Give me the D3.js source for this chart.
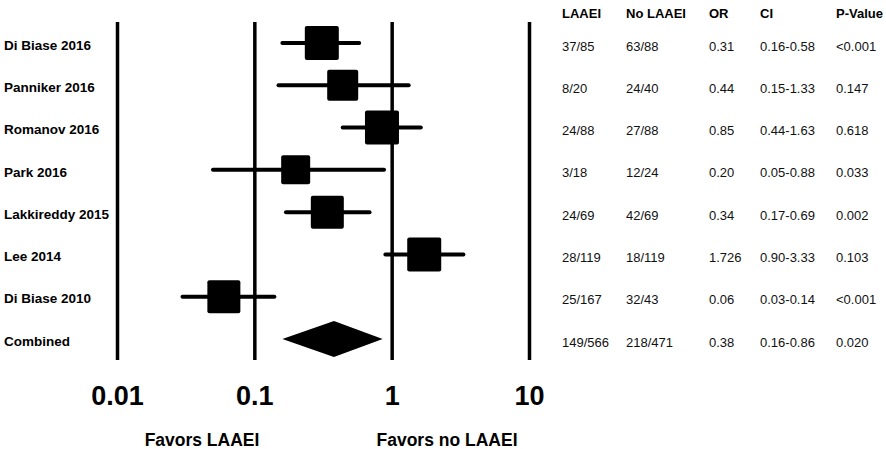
<!DOCTYPE html>
<html><head><meta charset="utf-8">
<script src="https://cdn.jsdelivr.net/npm/d3@7"></script>
<style>
html,body{margin:0;padding:0;background:#fff;}
svg{display:block;font-family:Arial,"Liberation Sans",sans-serif;}
</style></head>
<body>
<script>
const studies = ["Di Biase 2016","Panniker 2016","Romanov 2016","Park 2016","Lakkireddy 2015","Lee 2014","Di Biase 2010"];
const combinedLabel = "Combined";
const oddsRatio = [0.31,0.44,0.85,0.20,0.34,1.726,0.06];
const ciLow = [0.16,0.15,0.44,0.05,0.17,0.90,0.03];
const ciHigh = [0.58,1.33,1.63,0.88,0.69,3.33,0.14];
const weight = [34,31,34,29,33,34,33];
const combinedOR = 0.38, combinedLow = 0.16, combinedHigh = 0.86;
const colHeaders = ["LAAEI","No LAAEI","OR","CI","P-Value"];
const colLAAEI = ["37/85","8/20","24/88","3/18","24/69","28/119","25/167","149/566"];
const colNoLAAEI = ["63/88","24/40","27/88","12/24","42/69","18/119","32/43","218/471"];
const colOR = ["0.31","0.44","0.85","0.20","0.34","1.726","0.06","0.38"];
const colCI = ["0.16-0.58","0.15-1.33","0.44-1.63","0.05-0.88","0.17-0.69","0.90-3.33","0.03-0.14","0.16-0.86"];
const colP = ["<0.001","0.147","0.618","0.033","0.002","0.103","<0.001","0.020"];
const tickValues = [0.01,0.1,1,10];
const tickLabels = ["0.01","0.1","1","10"];
const favorLeft = "Favors LAAEI", favorRight = "Favors no LAAEI";

const W = 886, H = 449;
const svg = d3.select("body").append("svg").attr("width",W).attr("height",H);

const x = d3.scaleLog().domain([0.01,10]).range([117,529]);
const rows = studies.concat([combinedLabel]);
const y = d3.scalePoint().domain(rows).range([43,339]);
const sz = d3.scaleLinear().domain([0,34]).range([0,34]);

// axis with full-height gridlines
const axisY = 360;
const axis = d3.axisBottom(x).tickValues(tickValues)
  .tickFormat((d,i)=>tickLabels[i]).tickSizeInner(-(axisY-22)).tickSizeOuter(0).tickPadding(26);
const ag = svg.append("g").attr("transform",`translate(0,${axisY})`).call(axis);
ag.select(".domain").remove();
ag.selectAll(".tick line").attr("stroke","#000").attr("stroke-width",3.5);
ag.selectAll(".tick text").attr("fill","#000").style("font-size","27px").style("font-weight","bold")
  .style("font-family","Arial,'Liberation Sans',sans-serif");

// study labels
svg.append("g").selectAll("text").data(rows).join("text")
  .attr("x",4).attr("y",d=>y(d)+2).attr("dy","0.35em")
  .style("font-size","13.5px").style("font-weight","bold").attr("fill","#000")
  .text(d=>d);

// CI lines
const data = studies.map((s,i)=>({s,or:oddsRatio[i],lo:ciLow[i],hi:ciHigh[i],w:weight[i]}));
svg.append("g").selectAll("line").data(data).join("line")
  .attr("x1",d=>x(d.lo)).attr("x2",d=>x(d.hi))
  .attr("y1",d=>y(d.s)).attr("y2",d=>y(d.s))
  .attr("stroke","#000").attr("stroke-width",4).attr("stroke-linecap","round");

// squares
svg.append("g").selectAll("rect").data(data).join("rect")
  .attr("x",d=>x(d.or)-sz(d.w)/2).attr("y",d=>y(d.s)-sz(d.w)/2)
  .attr("width",d=>sz(d.w)).attr("height",d=>sz(d.w))
  .attr("rx",2).attr("fill","#000");

// diamond
const cy = y(combinedLabel), dh = 18;
svg.append("polygon")
  .attr("points",[[x(combinedLow),cy],[x(combinedOR),cy-dh],[x(combinedHigh),cy],[x(combinedOR),cy+dh]].map(p=>p.join(",")).join(" "))
  .attr("fill","#000");

// table
const colX = [562,626,709,760,836];
const cols = [colLAAEI,colNoLAAEI,colOR,colCI,colP];
const tg = svg.append("g");
tg.selectAll("text.h").data(colHeaders).join("text").attr("class","h")
  .attr("x",(d,i)=>colX[i]).attr("y",13).attr("dy","0.35em")
  .style("font-size","13px").style("font-weight","bold").attr("fill","#000").text(d=>d);
cols.forEach((col,ci)=>{
  tg.append("g").selectAll("text").data(col).join("text")
    .attr("x",colX[ci]).attr("y",(d,i)=>y(rows[i])+3).attr("dy","0.35em")
    .style("font-size","13px").attr("fill","#111").text(d=>d);
});

// favors labels
svg.append("text").attr("x",202).attr("y",446).attr("text-anchor","middle")
  .style("font-size","17.5px").style("font-weight","bold").text(favorLeft);
svg.append("text").attr("x",447).attr("y",446).attr("text-anchor","middle")
  .style("font-size","17.5px").style("font-weight","bold").text(favorRight);
</script>
</body></html>
